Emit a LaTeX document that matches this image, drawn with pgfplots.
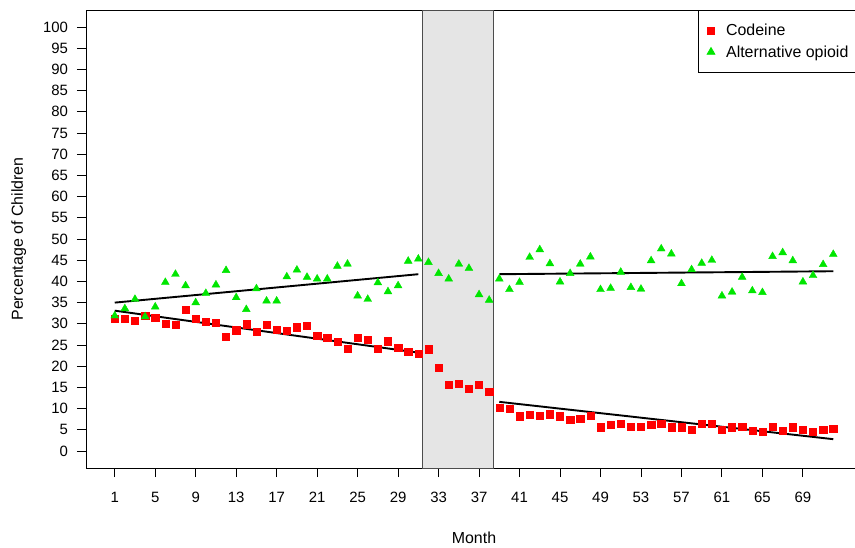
\documentclass[border=0pt]{standalone}
\usepackage{pgfplots}
\pgfplotsset{compat=1.18}
\usepackage{fontspec}
\setmainfont{Liberation Sans}
\definecolor{rred}{RGB}{255,0,0}
\definecolor{rgreen}{RGB}{0,230,0}
\definecolor{shade}{RGB}{229,229,229}
\begin{document}
\begin{tikzpicture}
\path[use as bounding box] (0bp,0bp) rectangle (855bp,-548bp);
\begin{axis}[
  at={(86bp,-10bp)}, anchor=north west,
  scale only axis, width=776bp, height=458bp,
  xmin=-1.84, xmax=74.84, ymin=-4, ymax=104,
  xtick={1,5,...,69}, ytick={0,5,...,100},
  tick pos=left, tick align=outside, major tick length=9bp,
  axis line style={line width=0.9bp, black},
  every tick/.style={line width=0.9bp, black},
  /pgf/number format/assume math mode=true,
  tick label style={font=\fontsize{15}{17}\selectfont},
  xticklabel style={yshift=-12bp},
  yticklabel style={xshift=-5.5bp},
  xlabel={Month}, ylabel={Percentage of Children},
  label style={font=\fontsize{16}{18}\selectfont},
  xlabel style={at={(axis description cs:0.5,-0.1528)}, anchor=center},
  ylabel style={at={(axis description cs:-0.0865,0.5)}, anchor=center},
  legend style={at={(1,1)}, anchor=north east, draw=black, line width=0.8bp,
    font=\fontsize{16}{18}\selectfont, inner xsep=9bp, inner ysep=9.5bp,
    nodes={inner sep=4.2bp, text depth=0.15em}, column sep=7bp},
  legend cell align=left,
  legend image code/.code={\draw[#1] plot coordinates {(0bp,0bp)};},
  clip=false,
]
\addplot[draw=gray!60!black, line width=0.9bp, fill=shade, forget plot]
  coordinates {(31.45,-4) (31.45,104) (38.4,104) (38.4,-4)} -- cycle;
\addplot[only marks, mark=square*, mark size=3.6bp, color=rred]
  coordinates {
(1,31.2)(2,31.3)(3,30.8)(4,31.9)(5,31.5)(6,30.1)(7,29.8)(8,33.4)(9,31.2)(10,30.5)
(11,30.2)(12,26.9)(13,28.5)(14,29.9)(15,28.2)(16,29.7)(17,28.7)(18,28.3)(19,29.2)(20,29.6)
(21,27.2)(22,26.7)(23,25.7)(24,24.2)(25,26.7)(26,26.2)(27,24.2)(28,25.9)(29,24.3)(30,23.4)
(31,23.0)(32,24.0)(33,19.7)(34,15.6)(35,15.8)(36,14.7)(37,15.6)(38,14.0)(39,10.3)(40,9.9)
(41,8.2)(42,8.5)(43,8.3)(44,8.7)(45,8.2)(46,7.4)(47,7.6)(48,8.3)(49,5.6)(50,6.3)
(51,6.4)(52,5.7)(53,5.7)(54,6.3)(55,6.5)(56,5.6)(57,5.6)(58,5.1)(59,6.5)(60,6.5)
(61,5.0)(62,5.6)(63,5.7)(64,4.8)(65,4.5)(66,5.7)(67,4.8)(68,5.6)(69,5.0)(70,4.5)
(71,5.1)(72,5.3)};
\addlegendentry{Codeine}
\addplot[only marks, mark=triangle*, mark size=4.5bp, color=rgreen]
  coordinates {
(1,31.9)(2,33.6)(3,35.8)(4,31.7)(5,34.0)(6,39.8)(7,41.7)(8,39.0)(9,35.0)(10,37.2)
(11,39.2)(12,42.6)(13,36.2)(14,33.4)(15,38.3)(16,35.4)(17,35.4)(18,41.1)(19,42.7)(20,41.0)
(21,40.6)(22,40.6)(23,43.6)(24,44.1)(25,36.6)(26,35.8)(27,39.7)(28,37.6)(29,39.0)(30,44.8)
(31,45.3)(32,44.5)(33,41.9)(34,40.6)(35,44.1)(36,43.1)(37,36.9)(38,35.6)(39,40.6)(40,38.1)
(41,39.8)(42,45.7)(43,47.5)(44,44.2)(45,39.9)(46,41.9)(47,44.1)(48,45.8)(49,38.1)(50,38.4)
(51,42.2)(52,38.6)(53,38.2)(54,44.9)(55,47.7)(56,46.5)(57,39.5)(58,42.8)(59,44.3)(60,45.0)
(61,36.6)(62,37.5)(63,41.0)(64,37.8)(65,37.4)(66,45.9)(67,46.8)(68,44.9)(69,39.9)(70,41.4)
(71,44.0)(72,46.4)};
\addlegendentry{Alternative opioid}
\addplot[black, line width=1.9bp, forget plot] coordinates {(1,33.1) (31,23.2)};
\addplot[black, line width=1.9bp, forget plot] coordinates {(1,35.0) (31,41.7)};
\addplot[black, line width=1.9bp, forget plot] coordinates {(39,11.6) (72,2.8)};
\addplot[black, line width=1.9bp, forget plot] coordinates {(39,41.7) (72,42.4)};
\end{axis}
\end{tikzpicture}
\end{document}
